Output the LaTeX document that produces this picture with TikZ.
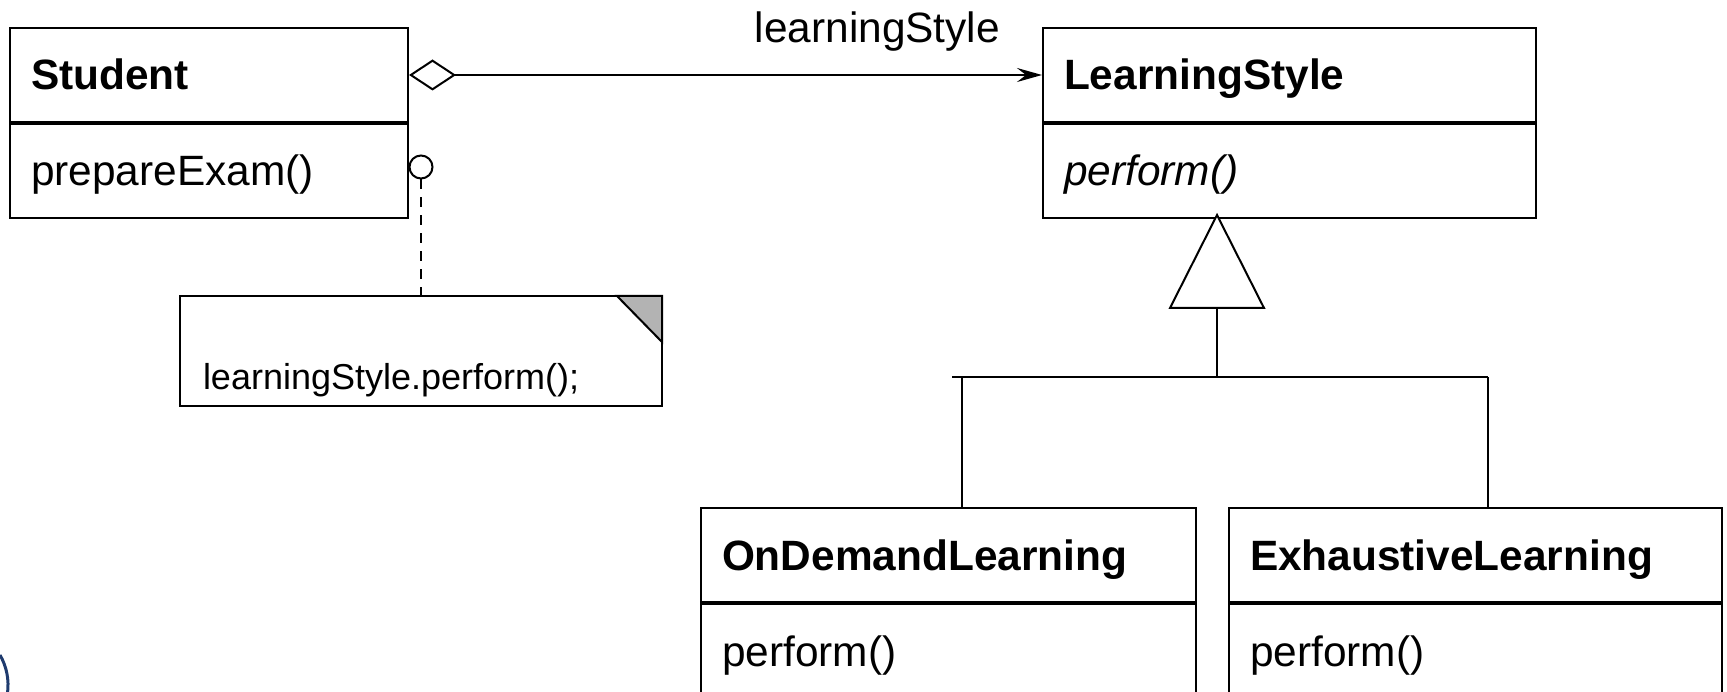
\documentclass[tikz,border=0pt]{standalone}
\usepackage{fontspec}
\setmainfont{Liberation Sans}
\usetikzlibrary{positioning,arrows.meta}
\definecolor{foldgray}{HTML}{B3B3B3}
\definecolor{logoblue}{HTML}{1F3B6E}

\begin{document}
\begin{tikzpicture}[x=1pt,y=-1pt,line width=2pt,
  every node/.style={font=\fontsize{42.4}{50}\selectfont},
  compartment/.style={draw,rectangle,minimum height=94pt,inner xsep=21pt,
    text height=30pt,text depth=0pt,align=left},
  head/.style={compartment,font=\fontsize{42.4}{50}\selectfont\bfseries},
  notebox/.style={rectangle,outer sep=0pt,inner xsep=23pt,text height=78pt,
    text depth=0pt,align=left,font=\fontsize{36}{42}\selectfont},
  rolelabel/.style={above=23pt,inner sep=0pt}
  ]
\useasboundingbox (0,0) rectangle (1727,692);

\node[head,text width=356pt,anchor=north west] (student) at (9,27) {Student};
\node[compartment,text width=356pt,below=0pt of student] (studentOps) {prepareExam()};

\node[head,text width=451pt,anchor=north west] (style) at (1042,27) {LearningStyle};
\node[compartment,text width=451pt,below=0pt of style] (styleOps) {\itshape perform()};

\node[head,text width=453pt,anchor=north west] (onDemand) at (700,507) {OnDemandLearning};
\node[compartment,text width=453pt,below=0pt of onDemand] (onDemandOps) {perform()};

\node[head,text width=451pt,anchor=north west] (exhaustive) at (1228,507) {ExhaustiveLearning};
\node[compartment,text width=451pt,below=0pt of exhaustive] (exhaustiveOps) {perform()};

\node[notebox,minimum width=482pt,minimum height=110pt,text width=436pt,anchor=north west]
  (note) at (180,296) {learningStyle.perform();};
\draw (note.north west) rectangle (note.south east);
\filldraw[fill=foldgray] ([xshift=-45pt]note.north east) -- (note.north east)
  -- ([yshift=-46pt]note.north east) -- cycle;

\node[circle,draw,minimum size=23pt,inner sep=0pt,fill=white] (ball) at (421,167) {};
\draw[dash pattern=on 10pt off 8pt] (ball) -- (note);

\draw[{Diamond[open,length=47pt,width=31pt]}-{Stealth[length=25pt,width=14pt,inset=9pt]}]
  (student) -- node[rolelabel,pos=0.74] {learningStyle} (style);

\coordinate (apex) at (1217,215);
\coordinate (triBase) at (1217,308);
\coordinate (busLeft) at (952,377);
\coordinate (busRight) at (1488,377);
\draw[fill=white] (apex) -- ++(47,93) -- ++(-94,0) -- cycle;
\draw (triBase) -- (triBase |- busLeft);
\draw (busLeft) -- (busRight);
\draw ([xshift=13pt]onDemand.north) -- ([xshift=13pt]onDemand.north |- busLeft);
\draw (exhaustive.north -| busRight) -- (busRight);

\draw[logoblue,line width=3pt] (0,655) arc[start angle=-30,end angle=8,radius=60];
\end{tikzpicture}
\end{document}
